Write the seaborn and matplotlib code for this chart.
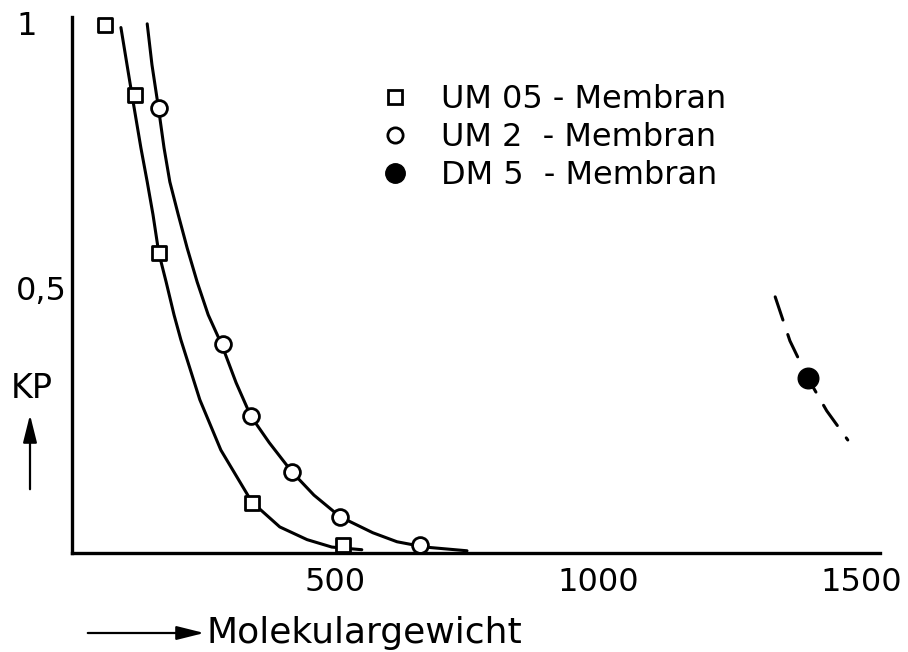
import matplotlib
matplotlib.use("Agg")
import matplotlib.pyplot as plt
import seaborn as sns
from matplotlib.lines import Line2D

# ---- data ----
um05_x = [63, 120, 165, 342, 515]
um05_y = [0.996, 0.864, 0.566, 0.094, 0.015]
um2_x = [165, 287, 340, 418, 510, 662]
um2_y = [0.840, 0.394, 0.258, 0.153, 0.068, 0.015]
dm5_x = [1399]
dm5_y = [0.330]

# fitted curves
curve05_x = [93, 114, 131, 143, 154, 165, 179, 194, 207, 243, 283, 342, 395, 447, 494, 551]
curve05_y = [0.991, 0.864, 0.764, 0.700, 0.638, 0.566, 0.511, 0.449, 0.402, 0.289, 0.194, 0.096, 0.049, 0.025, 0.011, 0.006]
curve2_x = [143, 152, 164, 175, 186, 202, 219, 238, 259, 285, 312, 340, 375, 418, 460, 510, 572, 618, 671, 751]
curve2_y = [0.998, 0.921, 0.842, 0.764, 0.700, 0.638, 0.575, 0.511, 0.449, 0.392, 0.321, 0.258, 0.208, 0.153, 0.109, 0.068, 0.038, 0.021, 0.011, 0.004]
dash_x = [1337, 1365, 1399, 1435, 1475]
dash_y = [0.483, 0.400, 0.330, 0.268, 0.213]

x_ticks = [500, 1000, 1500]
x_ticklabels = ["500", "1000", "1500"]
y_ticks = [0.5, 1.0]
y_ticklabels = ["0,5", "1"]
legend_labels = ["UM 05 - Membran", "UM 2  - Membran", "DM 5  - Membran"]

sns.set_theme(style="white")
plt.rcParams["font.family"] = ["DejaVu Sans"]
plt.rcParams["text.color"] = "black"
plt.rcParams["xtick.color"] = "black"
plt.rcParams["ytick.color"] = "black"

fig = plt.figure(figsize=(9.08, 6.52), dpi=100)
ax = fig.add_axes([0.0793, 0.152, 0.969 - 0.0793, 0.974 - 0.152])

lw = 2.2
sns.lineplot(x=curve05_x, y=curve05_y, ax=ax, color="black", lw=lw, sort=False, estimator=None)
sns.lineplot(x=curve2_x, y=curve2_y, ax=ax, color="black", lw=lw, sort=False, estimator=None)
sns.lineplot(x=dash_x, y=dash_y, ax=ax, color="black", lw=lw, sort=False, estimator=None,
             linestyle=(0, (8, 5)), dash_capstyle="round")

ax.scatter(um05_x, um05_y, marker="s", s=110, facecolor="white", edgecolor="black", linewidth=2.0, zorder=5)
ax.scatter(um2_x, um2_y, marker="o", s=130, facecolor="white", edgecolor="black", linewidth=2.0, zorder=5)
ax.scatter(dm5_x, dm5_y, marker="o", s=220, facecolor="black", edgecolor="black", linewidth=1.0, zorder=5)

ax.set_xlim(0, 1536)
ax.set_ylim(0, 1.011)

for s in ["top", "right"]:
    ax.spines[s].set_visible(False)
for s in ["left", "bottom"]:
    ax.spines[s].set_linewidth(2.4)
    ax.spines[s].set_color("black")

ax.set_xticks(x_ticks)
ax.set_xticklabels(x_ticklabels, fontsize=23, color="black")
ax.set_yticks(y_ticks)
ax.set_yticklabels(y_ticklabels, fontsize=23, color="black")
ax.tick_params(axis="both", direction="in", length=8, width=2.2, color="black", labelcolor="black")
ax.tick_params(axis="x", pad=10)
ax.tick_params(axis="y", pad=4)
# the "1" label sits further left in the reference
ax.get_yticklabels()[1].set_x(-0.036)

# axis labels with arrows
fig.text(32 / 908, 1 - 388 / 652, "KP", fontsize=24, ha="center", va="center", color="black")
ax.annotate("", xy=(30 / 908, 1 - 412 / 652), xytext=(30 / 908, 1 - 492 / 652),
            xycoords="figure fraction", textcoords="figure fraction",
            arrowprops=dict(arrowstyle="-|>,head_length=1.4,head_width=0.35", lw=1.6, color="black"))
fig.text(207 / 908, 1 - 633 / 652, "Molekulargewicht", fontsize=26, ha="left", va="center", color="black")
ax.annotate("", xy=(207 / 908, 1 - 633 / 652), xytext=(85 / 908, 1 - 633 / 652),
            xycoords="figure fraction", textcoords="figure fraction",
            arrowprops=dict(arrowstyle="-|>,head_length=1.4,head_width=0.35", lw=1.6, color="black"))

handles = [
    Line2D([], [], marker="s", ls="none", markersize=10, markerfacecolor="white", markeredgecolor="black", markeredgewidth=2.0),
    Line2D([], [], marker="o", ls="none", markersize=11, markerfacecolor="white", markeredgecolor="black", markeredgewidth=2.0),
    Line2D([], [], marker="o", ls="none", markersize=14, markerfacecolor="black", markeredgecolor="black"),
]
leg = ax.legend(handles, legend_labels, frameon=False, fontsize=23, loc="upper left",
                bbox_to_anchor=(379 / 908, 1 - 84 / 652), bbox_transform=fig.transFigure,
                handletextpad=0.95, labelspacing=0.22, borderaxespad=0, borderpad=0, handlelength=1.0)
for t in leg.get_texts():
    t.set_color("black")

fig.savefig("out.png", dpi=100)
